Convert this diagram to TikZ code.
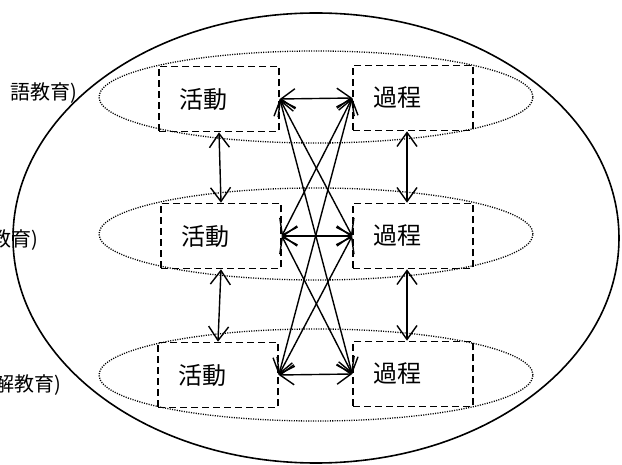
\documentclass[tikz,border=0pt]{standalone}
\usepackage{fontspec}
\setmainfont{Noto Sans CJK JP}
\usetikzlibrary{arrows.meta}

\begin{document}
\begin{tikzpicture}[x=1pt, y=1pt, >={Straight Barb[length=14pt,width=20pt]},
    caja/.style={draw, dash pattern=on 7pt off 4pt, line width=1.6pt, minimum height=65pt,
      text width=80pt, inner xsep=20pt, align=left, font=\fontsize{24}{24}\selectfont},
    grupo/.style={line width=1.3pt, dash pattern=on 1.1pt off 1.3pt},
    nivel/.style={anchor=east, font=\fontsize{20}{20}\selectfont},
    flecha/.style={<->, line width=1.4pt}]
  \useasboundingbox (0,0) rectangle (622,464);

  % Elipse exterior
  \draw[line width=1.6pt] (316,226) ellipse [x radius=303, y radius=225];

  % Elipses punteadas de cada nivel
  \foreach \y in {367,230,89}
    \draw[grupo] (316,\y) ellipse [x radius=217, y radius=46];

  % Nombres de los niveles (cortados por el borde)
  \node[nivel] (niv1) at (81,371) {語教育)};
  \node[nivel] (niv2) at (42,224) {教育)};
  \node[nivel] (niv3) at (65,79) {解教育)};

  % Cajas de actividad y de proceso
  \node[caja] (act1) at (219,365) {活動};
  \node[caja] (act2) at (221,228) {活動};
  \node[caja] (act3) at (218,89) {活動};
  \node[caja] (proc1) at (413,366) {過程};
  \node[caja] (proc2) at (413,228) {過程};
  \node[caja] (proc3) at (413,90) {過程};

  % Flechas verticales entre niveles
  \draw[flecha] (act1.south) -- (act2.north);
  \draw[flecha] (act2.south) -- (act3.north);
  \draw[flecha] ([xshift=-6pt]proc1.south) -- ([xshift=-6pt]proc2.north);
  \draw[flecha] ([xshift=-6pt]proc2.south) -- ([xshift=-6pt]proc3.north);

  % Flechas horizontales y cruzadas
  \foreach \i in {1,2,3}
    \draw[flecha] (act\i.east) -- (proc\i.west);
  \foreach \a/\b in {act1/proc2, act1/proc3, act2/proc1, act2/proc3, act3/proc1, act3/proc2}
    \draw[flecha] (\a.east) -- (\b.west);
\end{tikzpicture}
\end{document}
